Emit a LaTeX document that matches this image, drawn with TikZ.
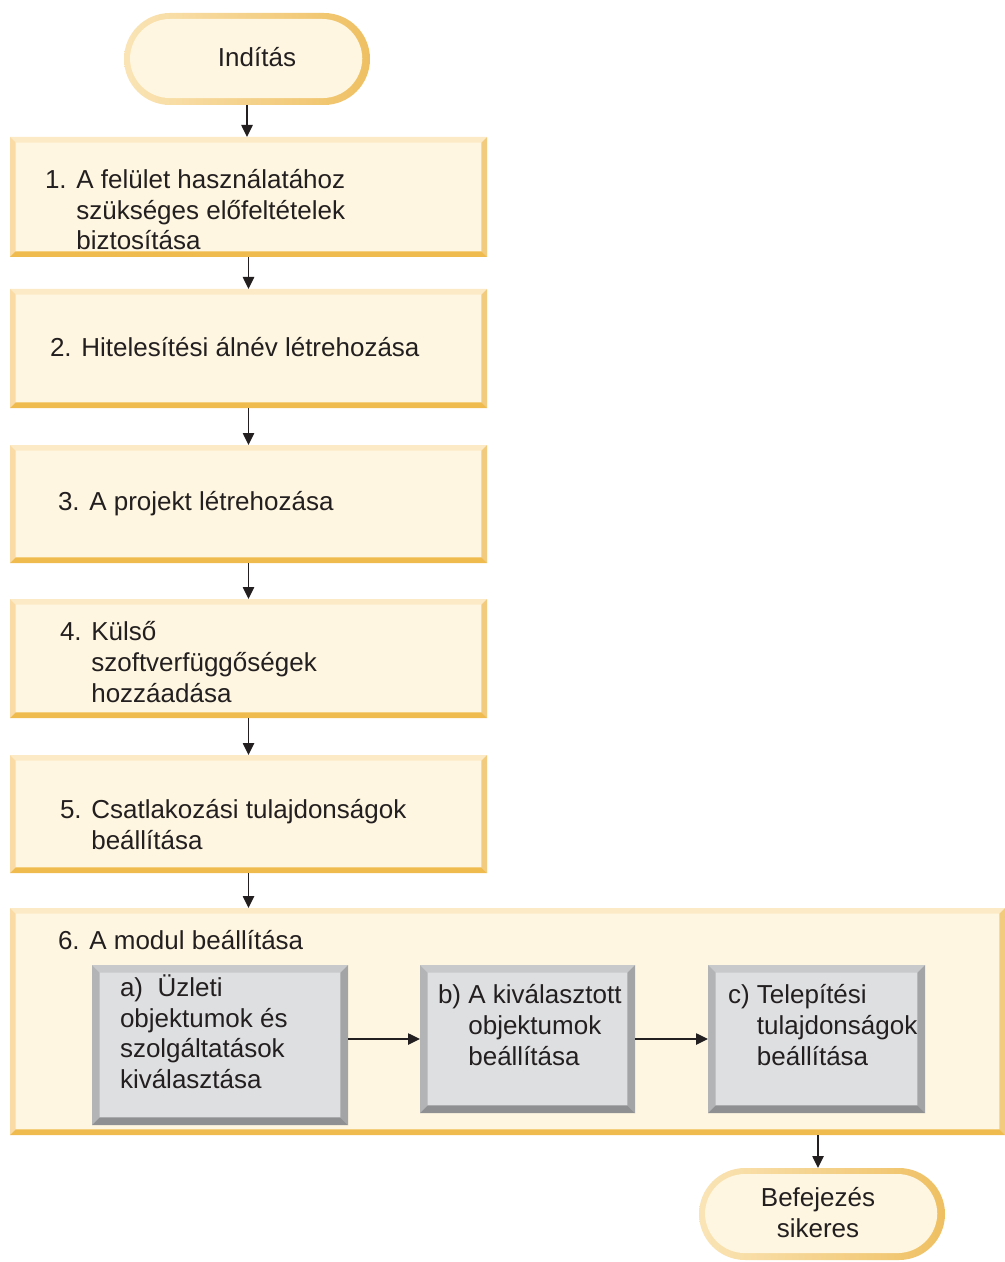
\documentclass[tikz,border=0pt]{standalone}
\usepackage{fontspec}
\setmainfont{Liberation Sans}
\usetikzlibrary{calc,arrows.meta}
\definecolor{cream}{HTML}{FEF6E0}
\definecolor{ytop}{HTML}{FCEAC6}
\definecolor{yleft}{HTML}{FADBA5}
\definecolor{yright}{HTML}{F3CB7E}
\definecolor{ybot}{HTML}{EFBB4E}
\definecolor{gfill}{HTML}{DEDFE1}
\definecolor{gtop}{HTML}{C8C9CB}
\definecolor{gleft}{HTML}{B3B4B6}
\definecolor{gright}{HTML}{A3A4A6}
\definecolor{gbot}{HTML}{8F9092}
\definecolor{termL}{HTML}{FAE4B6}
\definecolor{termR}{HTML}{EFC062}
\definecolor{ink}{HTML}{231F20}
\tikzset{
  bevel/.style n args={5}{path picture={
    \path (path picture bounding box.south west) coordinate (bvSW)
          (path picture bounding box.north east) coordinate (bvNE);
    \path (bvSW|-bvNE) coordinate (bvNW) (bvNE|-bvSW) coordinate (bvSE);
    \fill[#2] (bvNW) -- (bvNE) -- ($(bvNE)+(-#1,-#1)$) -- ($(bvNW)+(#1,-#1)$) -- cycle;
    \fill[#3] (bvNW) -- ($(bvNW)+(#1,-#1)$) -- ($(bvSW)+(#1,#1)$) -- (bvSW) -- cycle;
    \fill[#4] (bvNE) -- (bvSE) -- ($(bvSE)+(-#1,#1)$) -- ($(bvNE)+(-#1,-#1)$) -- cycle;
    \fill[#5] (bvSW) -- (bvSE) -- ($(bvSE)+(-#1,#1)$) -- ($(bvSW)+(#1,#1)$) -- cycle;
  }},
  ybox/.style={rectangle, inner sep=0pt, outer sep=0pt, fill=cream,
    bevel={4.3pt}{ytop}{yleft}{yright}{ybot}},
  gbox/.style={rectangle, inner sep=0pt, outer sep=0pt, fill=gfill,
    bevel={5.8pt}{gtop}{gleft}{gright}{gbot}},
  term/.style={rectangle, inner sep=0pt, outer sep=0pt, rounded corners=34.5pt,
    minimum width=184.5pt, minimum height=69pt, left color=termL, right color=termR,
    path picture={\fill[cream, rounded corners=30pt]
      ($(path picture bounding box.south west)+(4.5pt,5.2pt)$) rectangle
      ($(path picture bounding box.north east)+(-5.8pt,-4.5pt)$);}},
  txt/.style={inner sep=0pt, outer sep=0pt, align=left, anchor=base west,
    text=ink, font=\fontsize{19.5}{22.9}\selectfont},
  ctxt/.style={txt, align=center, anchor=base},
  arr/.style={-{Triangle[length=9pt,width=8.5pt]}, line width=1.1pt, draw=ink},
}
\begin{document}
\begin{tikzpicture}[x=0.75pt,y=-0.75pt]
\useasboundingbox (0,0) rectangle (1005,1262);
% terminals
\node[term] (start) at (247,59) {};
\node[ctxt] (startT) at (257,67) {Indítás};
% main steps (text nodes anchored at the baseline of their last line)
\node[ybox, minimum width=357.75pt, minimum height=90pt] (b1) at (248.5,197) {};
\node[txt] (t1) at (45,250) {1. A felület használatához\\\hphantom{1. }szükséges előfeltételek\\\hphantom{1. }biztosítása};
\node[ybox, minimum width=357.75pt, minimum height=89.25pt] (b2) at (248.5,348.5) {};
\node[txt] (t2) at (50,356) {2. Hitelesítési álnév létrehozása};
\node[ybox, minimum width=357.75pt, minimum height=88.5pt] (b3) at (248.5,504) {};
\node[txt] (t3) at (58,510) {3. A projekt létrehozása};
\node[ybox, minimum width=357.75pt, minimum height=89.25pt] (b4) at (248.5,658.5) {};
\node[txt] (t4) at (60,702) {4. Külső\\\hphantom{4. }szoftverfüggőségek\\\hphantom{4. }hozzáadása};
\node[ybox, minimum width=357.75pt, minimum height=88.5pt] (b5) at (248.5,814) {};
\node[txt] (t5) at (60,849.5) {5. Csatlakozási tulajdonságok\\\hphantom{5. }beállítása};
\node[ybox, minimum width=746.25pt, minimum height=170.25pt] (b6) at (507.5,1021.5) {};
\node[txt] (t6) at (58,949) {6. A modul beállítása};
% sub steps
\node[gbox, minimum width=192pt, minimum height=120pt] (sa) at (220,1045) {};
\node[txt] (ta) at (120,1088.5) {a)\ \ Üzleti\\objektumok és\\szolgáltatások\\kiválasztása};
\node[gbox, minimum width=161.25pt, minimum height=111pt] (sb) at (527.5,1039) {};
\node[txt] (tb) at (438,1065) {b) A kiválasztott\\\hphantom{b) }objektumok\\\hphantom{b) }beállítása};
\node[gbox, minimum width=162.75pt, minimum height=111pt] (sc) at (816.5,1039) {};
\node[txt] (tc) at (728,1065) {c) Telepítési\\\hphantom{c) }tulajdonságok\\\hphantom{c) }beállítása};
% end
\node[term] (stop) at (822,1214) {};
\node[ctxt] (stopT) at (818,1237.5) {Befejezés\\sikeres};
\coordinate (stopIn) at (stop.north -| stopT.south);
% connectors
\draw[arr] (start.south) -- (b1.north -| start.south);
\draw[arr] (b1.south) -- (b2.north);
\draw[arr] (b2.south) -- (b3.north);
\draw[arr] (b3.south) -- (b4.north);
\draw[arr] (b4.south) -- (b5.north);
\draw[arr] (b5.south) -- (b6.north -| b5.south);
\draw[arr] (sa.east |- sb.west) -- (sb.west);
\draw[arr] (sb.east) -- (sc.west);
\draw[arr] (b6.south -| stopIn) -- (stopIn);
\end{tikzpicture}
\end{document}
